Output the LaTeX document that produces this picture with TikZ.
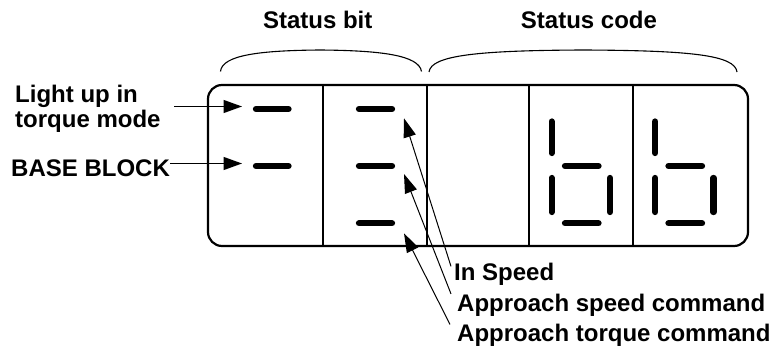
\documentclass[tikz,border=0pt]{standalone}
\usepackage{fontspec}
\setmainfont{Liberation Sans}
\usetikzlibrary{arrows.meta}

\begin{document}
\begin{tikzpicture}[x=1pt, y=-1pt,
  lbl/.style={font=\fontsize{24}{25}\selectfont\bfseries, inner sep=0pt},
  segbar/.style={line width=6.3pt, line cap=round},
  divline/.style={line width=2pt},
  arr/.style={line width=1.3pt, -{Triangle[length=18.5pt, width=13pt]}},
  darr/.style={line width=1pt, -{Triangle[length=19pt, width=12.5pt]}},
  brc/.style={line width=1.1pt}]
  \useasboundingbox (0,0) rectangle (776,358);
  % display frame
  \draw[line width=2.2pt, rounded corners=14pt] (208,85) rectangle (748,246);
  \foreach \xd in {323.3,426.7,529.3,633.3}
    \draw[divline] (\xd,85) -- (\xd,246);
  % braces
  \draw[brc] (220.5,71.5) .. controls (222,55) and (260,50.5) .. (320,50)
    .. controls (380,50.5) and (419,55) .. (421.5,71.5);
  \draw[brc] (429,72) .. controls (431,55) and (480,50.5) .. (583,50)
    .. controls (690,50.5) and (735,55) .. (737,72);
  % status bit segments
  \draw[segbar] (256,109) -- (288.5,109);
  \draw[segbar] (256,166) -- (288.5,166);
  \draw[segbar] (359,109) -- (392,109);
  \draw[segbar] (359,166) -- (392,166);
  \draw[segbar] (359,223.3) -- (392,223.3);
  % status code b b
  \foreach \dx in {0,103.5} {
    \draw[segbar] (551.7+\dx,121.5) -- (551.7+\dx,153);
    \draw[segbar] (551.7+\dx,178) -- (551.7+\dx,212);
    \draw[segbar] (565+\dx,166) -- (598.5+\dx,166);
    \draw[segbar] (565+\dx,223.3) -- (598.5+\dx,223.3);
    \draw[segbar] (610+\dx,178) -- (610+\dx,212);
  }
  % labels
  \node[lbl, anchor=base] (stbit) at (317.7,28.3) {Status bit};
  \node[lbl, anchor=base] (stcode) at (589,28.3) {Status code};
  \node[lbl, anchor=north west, align=left] (light) at (15,84.5) {Light up in\\torque mode};
  \node[lbl, anchor=base west] (bblk) at (11,176.5) {BASE BLOCK};
  \node[lbl, anchor=base west] (insp) at (454,280) {In Speed};
  \node[lbl, anchor=base west] (aspd) at (457,311.5) {Approach speed command};
  \node[lbl, anchor=base west] (atrq) at (457,341) {Approach torque command};
  % arrows
  \coordinate (lttail) at (174,106.5);
  \coordinate (lttip) at (242,106.5);
  \coordinate (bbtip) at (242,163.5);
  \coordinate (istip) at (404,118.3);
  \coordinate (astip) at (404,174);
  \coordinate (attip) at (404,233.3);
  \draw[arr] (lttail) -- (lttip);
  \draw[arr] (bblk.east |- bbtip) -- (bbtip);
  \draw[darr] ([shift={(-3,4)}]insp.north west) -- (istip);
  \draw[darr] ([shift={(-6,0)}]aspd.north west) -- (astip);
  \draw[darr] ([shift={(-7,1)}]atrq.north west) -- (attip);
\end{tikzpicture}
\end{document}
